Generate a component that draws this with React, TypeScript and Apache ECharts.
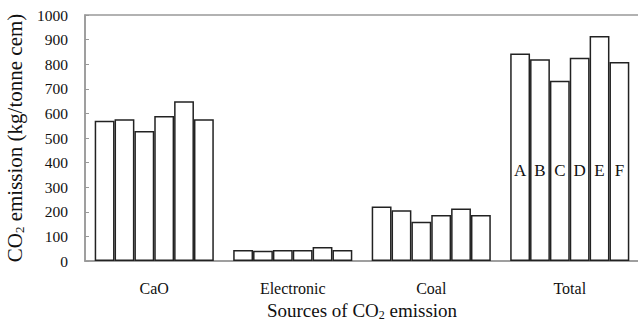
import React, { useEffect, useRef } from "react";
import * as echarts from "echarts";

const categories = ["CaO", "Electronic", "Coal", "Total"];
const samples = ["A", "B", "C", "D", "E", "F"];
const caO = [570, 576, 528, 589, 649, 576];
const electronic = [45, 42, 45, 45, 57, 45];
const coal = [222, 206, 160, 187, 213, 187];
const total = [843, 820, 733, 826, 915, 809];
const yTicks = { min: 0, max: 1000, interval: 100 };

const FONT = "'Liberation Serif', 'Times New Roman', serif";

export default function App() {
  const ref = useRef<HTMLDivElement>(null);
  useEffect(() => {
    if (!ref.current) return;
    const chart = echarts.init(ref.current, null, { renderer: "svg" });
    const series = samples.map((s, i) => ({
      type: "bar",
      name: s,
      barGap: "0%",
      barCategoryGap: "14%",
      itemStyle: { color: "#ffffff", borderColor: "#222222", borderWidth: 1.5 },
      data: [
        caO[i],
        electronic[i],
        coal[i],
        {
          value: total[i],
          label: {
            show: true,
            position: "insideBottom",
            distance: 82,
            formatter: s,
            color: "#111",
            fontFamily: FONT,
            fontSize: 17,
          },
        },
      ],
    }));
    const subX = {
      fontFamily: FONT,
      fontSize: 12,
      color: "#111",
      verticalAlign: "bottom",
      padding: [9, 0, 0, 0],
    };
    const normX = { fontFamily: FONT, fontSize: 19, color: "#111" };
    const subY = {
      fontFamily: FONT,
      fontSize: 13,
      color: "#111",
      verticalAlign: "bottom",
      padding: [10, 0, 0, 0],
    };
    const normY = { fontFamily: FONT, fontSize: 21, color: "#111" };
    chart.setOption({
      animation: false,
      backgroundColor: "#ffffff",
      textStyle: { fontFamily: FONT },
      grid: {
        left: 85,
        top: 15,
        width: 554,
        height: 246,
        outerBoundsMode: "none",
        containLabel: false,
        show: true,
        borderColor: "#999999",
        borderWidth: 1.5,
      },
      xAxis: {
        type: "category",
        data: categories,
        axisLine: { lineStyle: { color: "#999999", width: 1.5 } },
        axisTick: { inside: true, length: 4, lineStyle: { color: "#999999" } },
        axisLabel: { color: "#111", fontFamily: FONT, fontSize: 16, margin: 19 },
        name: "{n|Sources of CO}{sub|2}{n| emission}",
        nameLocation: "middle",
        nameGap: 38,
        nameTextStyle: {
          color: "#111",
          fontFamily: FONT,
          fontSize: 19,
          rich: { n: normX, sub: subX },
        },
      },
      yAxis: {
        type: "value",
        min: yTicks.min,
        max: yTicks.max,
        interval: yTicks.interval,
        splitLine: { show: false },
        axisLine: { show: true, lineStyle: { color: "#999999", width: 1.5 } },
        axisTick: { show: true, inside: true, length: 4, lineStyle: { color: "#999999" } },
        axisLabel: {
          color: "#111",
          fontFamily: FONT,
          fontSize: 15.5,
          margin: 17,
          formatter: (v: number) => String(v),
        },
        name: "{n|CO}{sub|2}{n| emission (kg/tonne cem)}",
        nameLocation: "middle",
        nameGap: 52,
        nameRotate: 90,
        nameTextStyle: {
          color: "#111",
          fontFamily: FONT,
          fontSize: 21,
          rich: { n: normY, sub: subY },
        },
      },
      series,
    });
    return () => chart.dispose();
  }, []);
  return (
    <div
      ref={ref}
      style={{ position: "fixed", left: 0, top: 0, width: 638, height: 327, background: "#fff" }}
    />
  );
}
